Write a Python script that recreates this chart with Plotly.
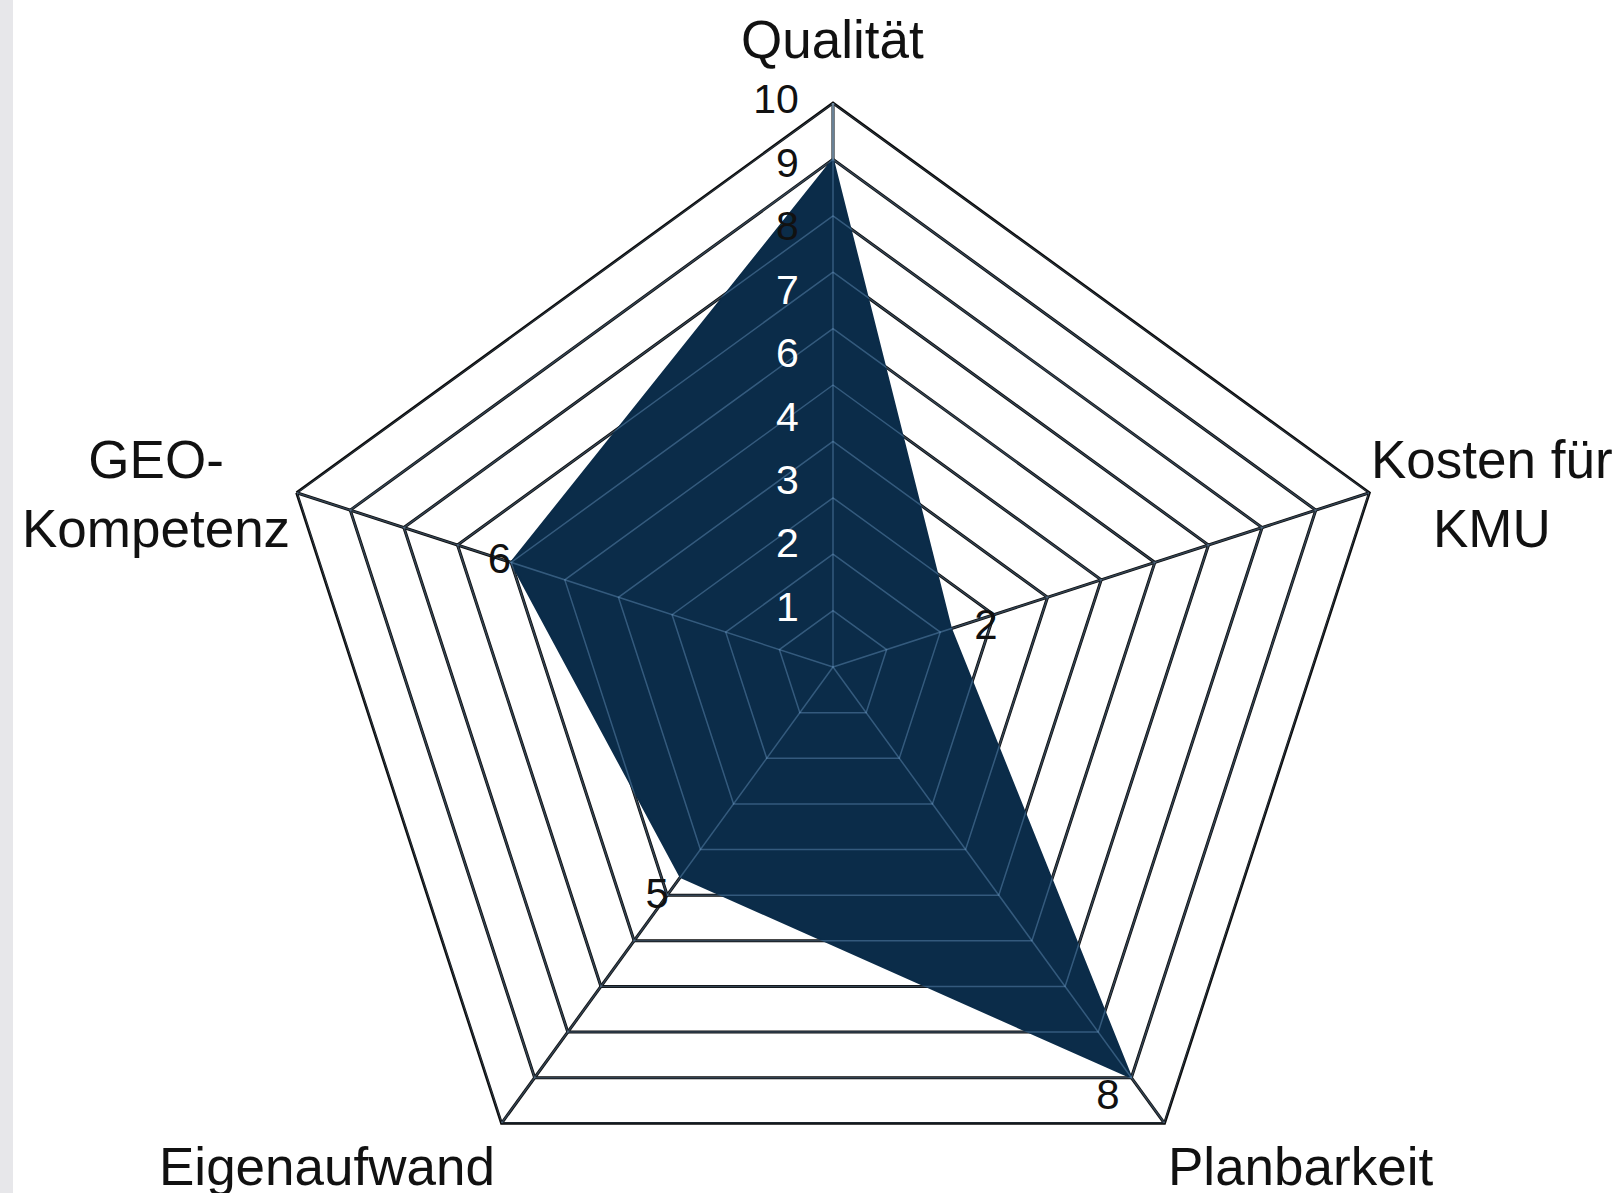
import plotly.graph_objects as go

# ---------------- data ----------------
categories = ["Qualität", "Kosten für KMU", "Planbarkeit", "Eigenaufwand", "GEO-Kompetenz"]
category_labels = ["Qualität", "Kosten für<br>KMU", "Planbarkeit", "Eigenaufwand", "GEO-<br>Kompetenz"]
values = [9, 2.2, 9, 4.6, 6]
value_labels = ["", "2", "8", "5", "6"]
ring_values = [1, 2, 3, 4, 5, 6, 7, 8, 9, 10]
tick_labels = ["1", "2", "3", "4", "6", "7", "8", "9", "10"]

# ---------------- geometry / style ----------------
W, H = 1624, 1240          # figure taller than the window; the bottom is cut off by the viewport
CX, CY, R = 833, 667, 564  # polar centre and radius in px
FONT = "Liberation Sans, Arial, Helvetica, sans-serif"
NAVY = "#0b2c49"
GRID = "#0a0a0a"
RMAX = max(ring_values)
NB = "\u00a0"

def px(x):
    return x / W

def py(y):
    return (H - y) / H

fig = go.Figure()

# data polygon
fig.add_trace(go.Scatterpolar(
    r=values + [values[0]], theta=categories + [categories[0]],
    mode="lines", fill="toself", fillcolor=NAVY,
    line=dict(color=NAVY, width=2), hoverinfo="skip", showlegend=False,
))

# light grid inside the filled area (light colour at low alpha: invisible on white paper)
gr, gt = [], []
for k in ring_values:
    gr += [k] * (len(categories) + 1) + [None]
    gt += categories + [categories[0]] + [None]
for c in categories:
    gr += [0, RMAX, None]
    gt += [c, c, None]
fig.add_trace(go.Scatterpolar(
    r=gr, theta=gt, mode="lines", connectgaps=False,
    line=dict(color="rgba(140,190,235,0.32)", width=1.5),
    hoverinfo="skip", showlegend=False,
))

# radial tick labels along the Qualität axis (evenly spaced as in the reference)
n = len(tick_labels)
tick_r = [ring_values[0] + i * (RMAX - ring_values[0]) / (n - 1) for i in range(n)]
tick_colors = ["#111111" if r > 7.5 else "white" for r in tick_r]
fig.add_trace(go.Scatterpolar(
    r=tick_r, theta=[categories[0]] * n,
    mode="text", text=[t + NB * 3 for t in tick_labels],
    textposition="middle left",
    textfont=dict(family=FONT, size=41, color=tick_colors),
    cliponaxis=False, hoverinfo="skip", showlegend=False,
))

# value labels next to points
fig.add_trace(go.Scatterpolar(
    r=values, theta=categories, mode="text",
    text=["", NB * 2 + value_labels[1], value_labels[2] + NB, value_labels[3] + NB, value_labels[4]],
    textposition=["middle left", "middle right", "bottom left", "bottom left", "middle left"],
    textfont=dict(family=FONT, size=42, color="#111111"),
    cliponaxis=False, hoverinfo="skip", showlegend=False,
))

# category labels
label_pos = [(832, 40), (1492, 494), (1300, 1166), (327, 1166), (156, 494)]
for txt, (x, y) in zip(category_labels, label_pos):
    fig.add_annotation(
        text=txt, x=px(x), y=py(y), xref="paper", yref="paper",
        xanchor="center", yanchor="middle", showarrow=False, align="center",
        font=dict(family=FONT, size=53, color="#111111"),
    )

# light grey strip on the left edge
fig.add_shape(type="rect", xref="paper", yref="paper", x0=0, x1=px(13), y0=0, y1=1,
              fillcolor="#e7e7ea", line=dict(width=0), layer="below")

fig.update_layout(
    width=W, height=H,
    margin=dict(l=0, r=0, t=0, b=0),
    paper_bgcolor="white", plot_bgcolor="white",
    showlegend=False,
    polar=dict(
        domain=dict(x=[px(CX - R), px(CX + R)], y=[py(CY + R), py(CY - R)]),
        bgcolor="white",
        gridshape="linear",
        radialaxis=dict(
            range=[0, RMAX], tickvals=ring_values, showticklabels=False, ticks="",
            showgrid=True, gridcolor=GRID, gridwidth=2.6,
            showline=True, linecolor="#5f6f7b", linewidth=2.5, angle=90,
            layer="below traces",
        ),
        angularaxis=dict(
            categoryorder="array", categoryarray=categories,
            direction="clockwise", rotation=90,
            showticklabels=False, ticks="",
            showgrid=True, gridcolor=GRID, gridwidth=2.6,
            showline=True, linecolor=GRID, linewidth=2.8,
            layer="below traces",
        ),
    ),
)

fig.write_html(
    "out.html",
    config={"displayModeBar": False},
    post_script="document.body.style.margin='0';document.body.style.overflow='hidden';"
                "document.documentElement.style.overflow='hidden';",
)
